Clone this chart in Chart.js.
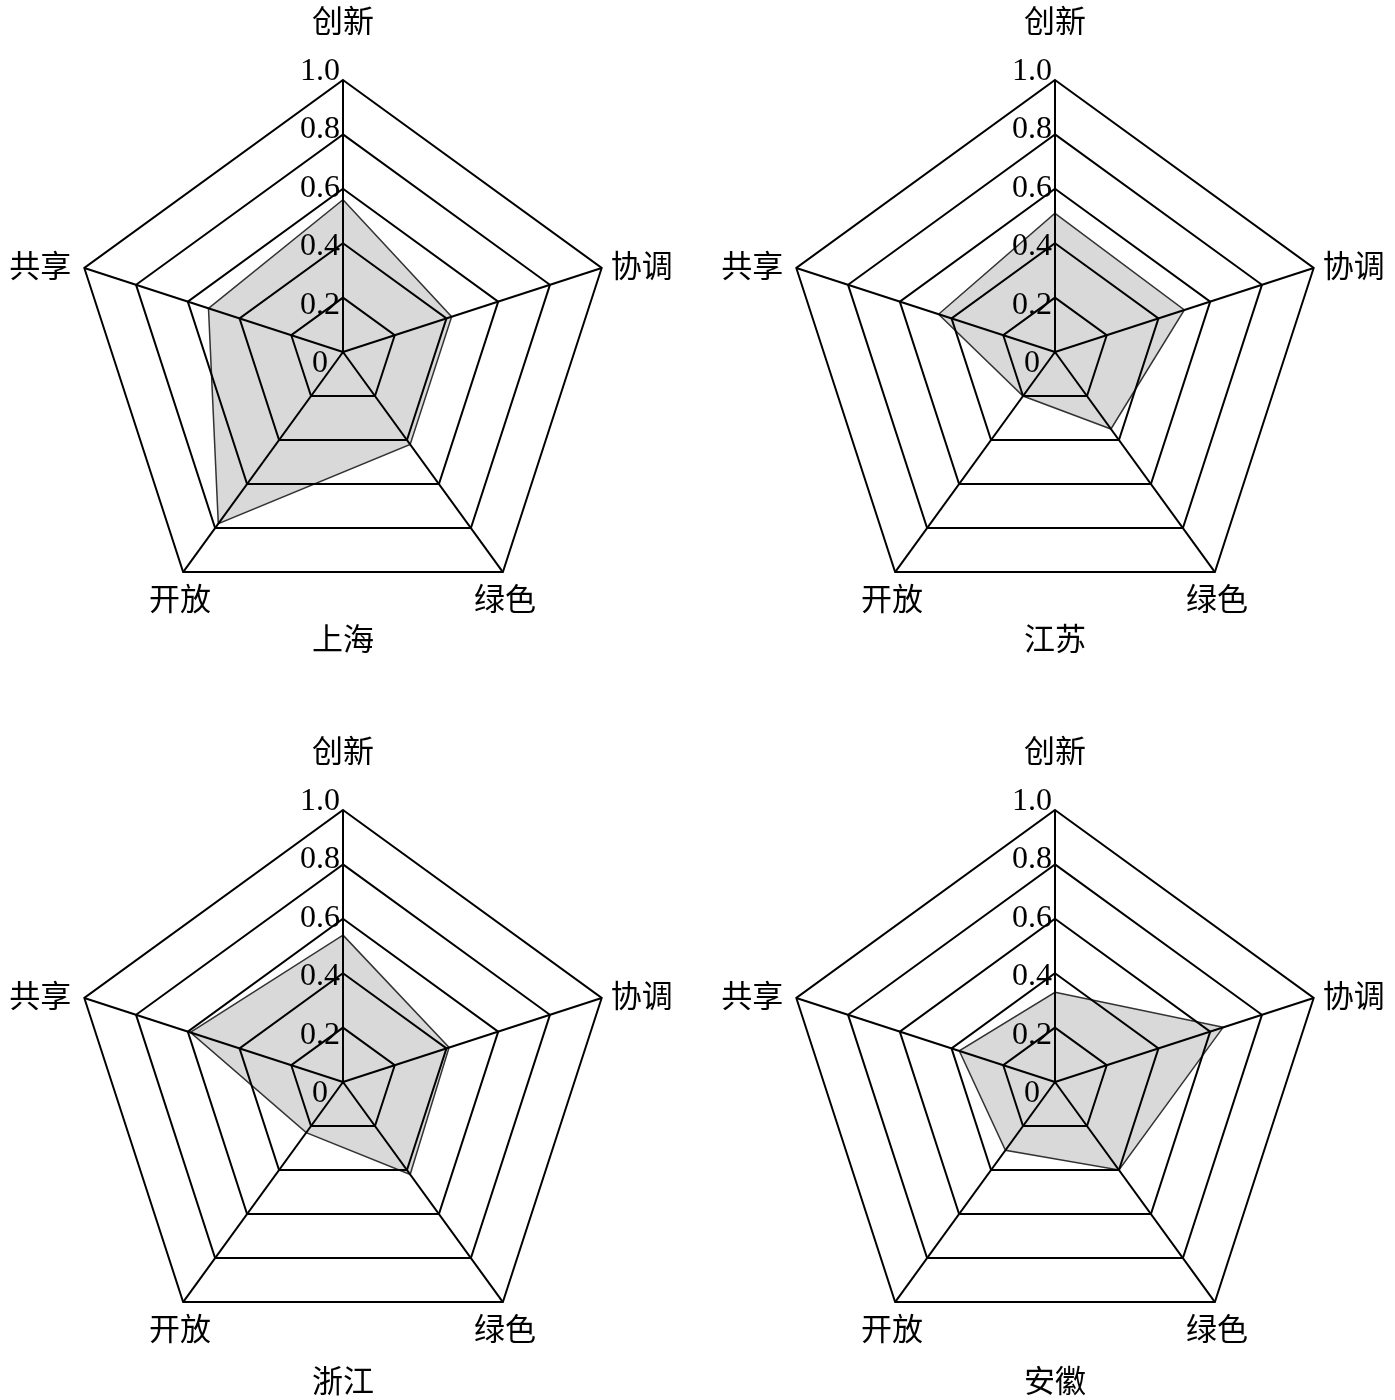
<!DOCTYPE html>
<html lang="zh-CN">
<head>
    <meta charset="UTF-8">
    <title>雷达图</title>
    <script src="https://cdn.jsdelivr.net/npm/chart.js"></script>
    <style>
        html, body { margin: 0; padding: 0; background: #fff; }
        body { width: 1395px; height: 1400px; position: relative; overflow: hidden; }
        canvas { position: absolute; }
    </style>
</head>
<body>
    <canvas id="c0" width="700" height="730"></canvas>
    <canvas id="c1" width="700" height="730"></canvas>
    <canvas id="c2" width="700" height="730"></canvas>
    <canvas id="c3" width="700" height="730"></canvas>

    <script>
        // data
        const axes = ['创新', '协调', '绿色', '开放', '共享'];
        const regions = ['上海', '江苏', '浙江', '安徽'];
        const shanghai = [0.56, 0.42, 0.42, 0.78, 0.52];
        const jiangsu  = [0.51, 0.50, 0.35, 0.20, 0.45];
        const zhejiang = [0.54, 0.41, 0.42, 0.23, 0.59];
        const anhui    = [0.33, 0.65, 0.40, 0.31, 0.37];
        const tickValues = [0, 0.2, 0.4, 0.6, 0.8, 1.0];
        const tickLabels = ['0', '0.2', '0.4', '0.6', '0.8', '1.0'];

        const series = [shanghai, jiangsu, zhejiang, anhui];

        // where each chart sits on the page
        const centers = [[343, 352], [1055, 352], [343, 1082], [1055, 1082]];
        const titleOffset = [286, 286, 298, 298];

        const cjk = '"Noto Sans CJK SC", sans-serif';
        const serif = '"Liberation Serif", "Times New Roman", serif';

        // text around the axes, drawn with the scale's own positions
        const labelsPlugin = {
            id: 'labels',
            afterDraw(chart, args, opts) {
                const r = chart.scales.r;
                const ctx = chart.ctx;
                ctx.save();
                ctx.fillStyle = '#000';

                ctx.font = '32px ' + serif;
                ctx.textAlign = 'center';
                ctx.textBaseline = 'alphabetic';
                tickValues.forEach((v, i) => {
                    const d = r.getDistanceFromCenterForValue(v);
                    ctx.fillText(tickLabels[i], r.xCenter - 23, r.yCenter + 20 - d * 292 / 272);
                });

                ctx.font = '31px ' + cjk;
                ctx.textBaseline = 'middle';
                axes.forEach((name, i) => {
                    const p = r.getPointPosition(i, r.drawingArea);
                    let x = p.x, y = p.y;
                    if (i === 0) { ctx.textAlign = 'center'; y -= 60; }
                    else if (i === 1) { ctx.textAlign = 'left'; x += 9; y -= 3; }
                    else if (i === 2) { ctx.textAlign = 'center'; x += 2; y += 26; }
                    else if (i === 3) { ctx.textAlign = 'center'; x -= 3; y += 26; }
                    else { ctx.textAlign = 'right'; x -= 13; y -= 3; }
                    ctx.fillText(name, x, y);
                });

                ctx.textAlign = 'center';
                ctx.fillText(opts.title, r.xCenter, r.yCenter + opts.offset);
                ctx.restore();
            }
        };

        regions.forEach((name, k) => {
            const canvas = document.getElementById('c' + k);
            canvas.style.left = (centers[k][0] - 350) + 'px';
            canvas.style.top = (centers[k][1] - 365) + 'px';

            new Chart(canvas.getContext('2d'), {
                type: 'radar',
                data: {
                    labels: axes,
                    datasets: [{
                        label: name,
                        data: series[k],
                        backgroundColor: '#d9d9d9',
                        borderColor: '#333',
                        borderWidth: 1.5,
                        fill: true,
                        pointRadius: 0
                    }]
                },
                options: {
                    responsive: false,
                    animation: false,
                    layout: { padding: { left: 78, right: 78, top: 93, bottom: 93 } },
                    elements: { line: { tension: 0 } },
                    plugins: {
                        legend: { display: false },
                        tooltip: { enabled: false },
                        labels: { title: name, offset: titleOffset[k] }
                    },
                    scales: {
                        r: {
                            min: 0,
                            max: 1,
                            ticks: { display: false, stepSize: 0.2 },
                            // grid on top of the grey fill, as in the original
                            grid: { circular: false, color: '#000', lineWidth: 2, z: 1 },
                            angleLines: { color: '#000', lineWidth: 2 },
                            pointLabels: { display: false }
                        }
                    }
                },
                plugins: [labelsPlugin]
            });
        });
    </script>
</body>
</html>
